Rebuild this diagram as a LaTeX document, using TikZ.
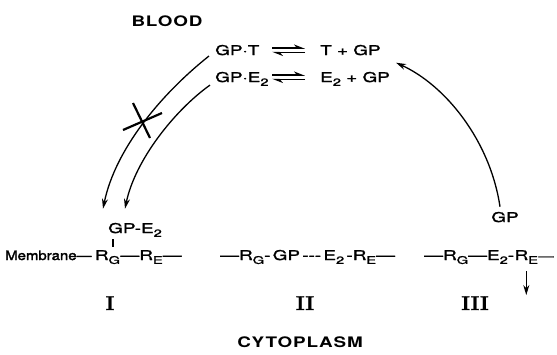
\documentclass[tikz,border=0pt]{standalone}
\usepackage{fontspec}
\usetikzlibrary{arrows.meta,calc}
\newfontfamily\lett{TeX Gyre Heros}[FakeStretch=1.4,FakeBold=1.6]
\newfontfamily\lettm{TeX Gyre Heros}[FakeStretch=1.15,FakeBold=2.2]
\newfontfamily\lettb{TeX Gyre Heros}[FakeStretch=1.3,LetterSpace=6]
\newfontfamily\numf{lmroman10-bold.otf}[FakeBold=1.5]
\newcommand\dn[1]{\raisebox{-0.55ex}{\fontsize{10.5}{10}\selectfont #1}}
\begin{document}
\begin{tikzpicture}[x=1pt,y=-1pt,
  lbl/.style={inner sep=0pt, font=\lett\fontsize{13.5}{15}\selectfont},
  memb/.style={inner sep=0pt, font=\lettm\fontsize{13}{14}\selectfont},
  head/.style={inner sep=0pt, font=\lettb\bfseries\fontsize{14.5}{16}\selectfont},
  numeral/.style={inner sep=0pt, font=\numf\fontsize{20}{20}\selectfont},
  conn/.style={line width=1.3pt, -{Stealth[length=10pt,width=6pt]}},
  eqarr/.style={line width=1.5pt, -{Stealth[harpoon,length=9pt,width=7pt]}},
  barline/.style={line width=1.3pt},
  cross/.style={line width=2.2pt}]
\useasboundingbox (0,0) rectangle (557,354);
% blood side
\node[head, anchor=base] (blood) at (167,26) {BLOOD};
\node[lbl, anchor=base west] (gpt) at (215,55) {GP·T};
\node[lbl, anchor=base west] (tgp) at (320,55) {T + GP};
\node[lbl, anchor=base west] (gpe) at (215,82) {GP·E\dn{2}};
\node[lbl, anchor=base west] (egp) at (320,82) {E\dn{2} + GP};
\draw[eqarr] ($(tgp.base west)+(-48,-7)$) -- ($(tgp.base west)+(-15,-7)$);
\draw[eqarr] ($(tgp.base west)+(-15,-2.5)$) -- ($(tgp.base west)+(-48,-2.5)$);
\draw[eqarr] ($(egp.base west)+(-48,-7)$) -- ($(egp.base west)+(-15,-7)$);
\draw[eqarr] ($(egp.base west)+(-15,-2.5)$) -- ($(egp.base west)+(-48,-2.5)$);
% complex I
\node[lbl, anchor=base west] (gpe1) at (108,233) {GP-E\dn{2}};
\node[memb, anchor=base west] (mem) at (5,260) {Membrane—};
\node[lbl, anchor=base west] (rg1) at ($(mem.base east)+(3,0)$) {R\dn{G}};
\node[lbl, anchor=base west] (re1) at (rg1.base east) {—R\dn{E}—};
\draw[barline] ($(gpe1.south west)+(5,2)$) -- ($(gpe1.south west |- rg1.north)+(5,-3)$);
% complex II
\node[lbl, anchor=base west] (ii) at (220,260) {—R\dn{G}-\,GP\,-{}-{}-\,E\dn{2}\,-R\dn{E}—};
% complex III
\node[lbl, anchor=base] (gp3) at (505,222) {GP};
\node[lbl, anchor=base west] (iiia) at (424,260) {—R\dn{G}—E\dn{2}-};
\node[lbl, anchor=base west] (re3) at (iiia.base east) {R\dn{E}};
\node[lbl, anchor=base west, font=\lett\fontsize{11}{12}\selectfont] (iiib) at (re3.base east) {—};
\coordinate (dn3) at ($(re3.south)+(0,31)$);
\draw[conn] ($(re3.south)+(0,7)$) -- (dn3);
% arrows
\draw[conn] ($(gpt.base west)+(-6,1)$) .. controls (160,95) and (115,150) .. ($(gpe1.north west)+(-5,-14)$);
\draw[conn] ($(gpe.south west)+(-5,-1)$) .. controls (175,110) and (135,160) .. ($(gpe1.north west)+(17,-14)$);
\draw[conn] ($(gp3.north)+(-5,-5)$) .. controls (490,140) and (445,85) .. ($(egp.north east)+(6,-9)$);
\coordinate (xc) at (142,122);
\draw[cross] ($(xc)+(-19,8)$) -- ($(xc)+(20,-9)$);
\draw[cross] ($(xc)+(-9,-19)$) -- ($(xc)+(8,16)$);
% numerals and labels
\node[numeral, anchor=base] (n1) at (110,310) {I};
\node[numeral, anchor=base] (n2) at (305,310) {II};
\node[numeral, anchor=base] (n3) at (475,310) {III};
\node[head, anchor=base] (cyto) at (300,347) {CYTOPLASM};
\end{tikzpicture}
\end{document}
